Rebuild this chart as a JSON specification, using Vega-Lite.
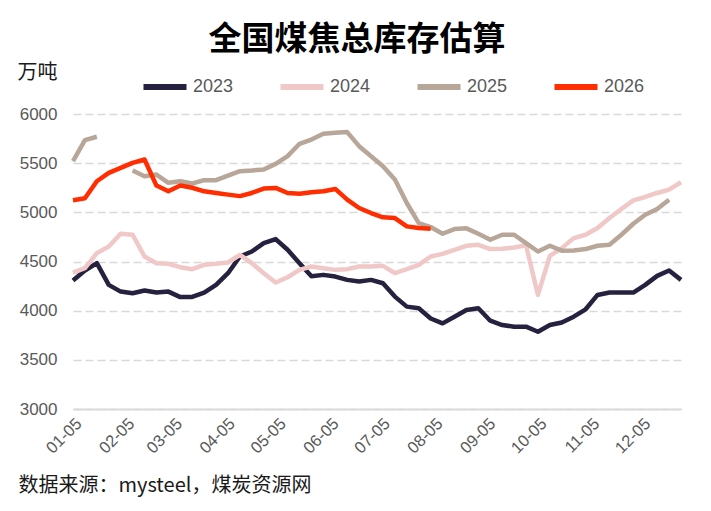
{
  "$schema": "https://vega.github.io/schema/vega-lite/v6.json",
  "width": 608,
  "height": 295,
  "autosize": {"type": "none"},
  "padding": {"left": 73, "top": 114, "right": 30, "bottom": 102},
  "background": "white",
  "title": {
    "text": "全国煤焦总库存估算",
    "font": "Noto Sans CJK SC",
    "fontSize": 33,
    "fontWeight": "bold",
    "color": "#000000",
    "anchor": "middle",
    "frame": "group",
    "dx": -20,
    "offset": 5
  },
  "data": {
    "values": [
      {"year": "2023", "date": "2001-01-05", "value": 4306}, {"year": "2023", "date": "2001-01-12", "value": 4408}, {"year": "2023", "date": "2001-01-19", "value": 4483}, {"year": "2023", "date": "2001-01-26", "value": 4262}, {"year": "2023", "date": "2001-02-02", "value": 4194}, {"year": "2023", "date": "2001-02-09", "value": 4177}, {"year": "2023", "date": "2001-02-16", "value": 4205}, {"year": "2023", "date": "2001-02-23", "value": 4184}, {"year": "2023", "date": "2001-03-02", "value": 4194}, {"year": "2023", "date": "2001-03-09", "value": 4138}, {"year": "2023", "date": "2001-03-16", "value": 4140}, {"year": "2023", "date": "2001-03-23", "value": 4184}, {"year": "2023", "date": "2001-03-30", "value": 4262}, {"year": "2023", "date": "2001-04-06", "value": 4381}, {"year": "2023", "date": "2001-04-13", "value": 4551}, {"year": "2023", "date": "2001-04-20", "value": 4602}, {"year": "2023", "date": "2001-04-27", "value": 4687}, {"year": "2023", "date": "2001-05-04", "value": 4728}, {"year": "2023", "date": "2001-05-11", "value": 4619}, {"year": "2023", "date": "2001-05-18", "value": 4483}, {"year": "2023", "date": "2001-05-25", "value": 4350}, {"year": "2023", "date": "2001-06-01", "value": 4364}, {"year": "2023", "date": "2001-06-08", "value": 4347}, {"year": "2023", "date": "2001-06-15", "value": 4313}, {"year": "2023", "date": "2001-06-22", "value": 4296}, {"year": "2023", "date": "2001-06-29", "value": 4313}, {"year": "2023", "date": "2001-07-06", "value": 4279}, {"year": "2023", "date": "2001-07-13", "value": 4143}, {"year": "2023", "date": "2001-07-20", "value": 4041}, {"year": "2023", "date": "2001-07-27", "value": 4024}, {"year": "2023", "date": "2001-08-03", "value": 3920}, {"year": "2023", "date": "2001-08-10", "value": 3871}, {"year": "2023", "date": "2001-08-17", "value": 3939}, {"year": "2023", "date": "2001-08-24", "value": 4007}, {"year": "2023", "date": "2001-08-31", "value": 4024}, {"year": "2023", "date": "2001-09-07", "value": 3898}, {"year": "2023", "date": "2001-09-14", "value": 3854}, {"year": "2023", "date": "2001-09-21", "value": 3837}, {"year": "2023", "date": "2001-09-28", "value": 3837}, {"year": "2023", "date": "2001-10-05", "value": 3786}, {"year": "2023", "date": "2001-10-12", "value": 3854}, {"year": "2023", "date": "2001-10-19", "value": 3880}, {"year": "2023", "date": "2001-10-26", "value": 3939}, {"year": "2023", "date": "2001-11-02", "value": 4014}, {"year": "2023", "date": "2001-11-09", "value": 4160}, {"year": "2023", "date": "2001-11-16", "value": 4184}, {"year": "2023", "date": "2001-11-23", "value": 4184}, {"year": "2023", "date": "2001-11-30", "value": 4184}, {"year": "2023", "date": "2001-12-07", "value": 4262}, {"year": "2023", "date": "2001-12-14", "value": 4354}, {"year": "2023", "date": "2001-12-21", "value": 4408}, {"year": "2023", "date": "2001-12-28", "value": 4313},
      {"year": "2024", "date": "2001-01-05", "value": 4388}, {"year": "2024", "date": "2001-01-12", "value": 4432}, {"year": "2024", "date": "2001-01-19", "value": 4585}, {"year": "2024", "date": "2001-01-26", "value": 4653}, {"year": "2024", "date": "2001-02-02", "value": 4782}, {"year": "2024", "date": "2001-02-09", "value": 4772}, {"year": "2024", "date": "2001-02-16", "value": 4551}, {"year": "2024", "date": "2001-02-23", "value": 4483}, {"year": "2024", "date": "2001-03-02", "value": 4476}, {"year": "2024", "date": "2001-03-09", "value": 4442}, {"year": "2024", "date": "2001-03-16", "value": 4422}, {"year": "2024", "date": "2001-03-23", "value": 4466}, {"year": "2024", "date": "2001-03-30", "value": 4476}, {"year": "2024", "date": "2001-04-06", "value": 4490}, {"year": "2024", "date": "2001-04-13", "value": 4568}, {"year": "2024", "date": "2001-04-20", "value": 4483}, {"year": "2024", "date": "2001-04-27", "value": 4381}, {"year": "2024", "date": "2001-05-04", "value": 4286}, {"year": "2024", "date": "2001-05-11", "value": 4340}, {"year": "2024", "date": "2001-05-18", "value": 4415}, {"year": "2024", "date": "2001-05-25", "value": 4449}, {"year": "2024", "date": "2001-06-01", "value": 4432}, {"year": "2024", "date": "2001-06-08", "value": 4415}, {"year": "2024", "date": "2001-06-15", "value": 4422}, {"year": "2024", "date": "2001-06-22", "value": 4449}, {"year": "2024", "date": "2001-06-29", "value": 4449}, {"year": "2024", "date": "2001-07-06", "value": 4456}, {"year": "2024", "date": "2001-07-13", "value": 4381}, {"year": "2024", "date": "2001-07-20", "value": 4422}, {"year": "2024", "date": "2001-07-27", "value": 4466}, {"year": "2024", "date": "2001-08-03", "value": 4551}, {"year": "2024", "date": "2001-08-10", "value": 4578}, {"year": "2024", "date": "2001-08-17", "value": 4619}, {"year": "2024", "date": "2001-08-24", "value": 4660}, {"year": "2024", "date": "2001-08-31", "value": 4670}, {"year": "2024", "date": "2001-09-07", "value": 4626}, {"year": "2024", "date": "2001-09-14", "value": 4629}, {"year": "2024", "date": "2001-09-21", "value": 4643}, {"year": "2024", "date": "2001-09-28", "value": 4665}, {"year": "2024", "date": "2001-10-05", "value": 4160}, {"year": "2024", "date": "2001-10-12", "value": 4558}, {"year": "2024", "date": "2001-10-19", "value": 4636}, {"year": "2024", "date": "2001-10-26", "value": 4738}, {"year": "2024", "date": "2001-11-02", "value": 4772}, {"year": "2024", "date": "2001-11-09", "value": 4840}, {"year": "2024", "date": "2001-11-16", "value": 4942}, {"year": "2024", "date": "2001-11-23", "value": 5034}, {"year": "2024", "date": "2001-11-30", "value": 5122}, {"year": "2024", "date": "2001-12-07", "value": 5156}, {"year": "2024", "date": "2001-12-14", "value": 5197}, {"year": "2024", "date": "2001-12-21", "value": 5231}, {"year": "2024", "date": "2001-12-28", "value": 5306},
      {"year": "2025", "date": "2001-01-05", "value": 5520}, {"year": "2025", "date": "2001-01-12", "value": 5735}, {"year": "2025", "date": "2001-01-19", "value": 5769}, {"year": "2025", "date": "2001-01-26", "value": null}, {"year": "2025", "date": "2001-02-02", "value": null}, {"year": "2025", "date": "2001-02-09", "value": 5425}, {"year": "2025", "date": "2001-02-16", "value": 5367}, {"year": "2025", "date": "2001-02-23", "value": 5384}, {"year": "2025", "date": "2001-03-02", "value": 5300}, {"year": "2025", "date": "2001-03-09", "value": 5316}, {"year": "2025", "date": "2001-03-16", "value": 5293}, {"year": "2025", "date": "2001-03-23", "value": 5327}, {"year": "2025", "date": "2001-03-30", "value": 5327}, {"year": "2025", "date": "2001-04-06", "value": 5374}, {"year": "2025", "date": "2001-04-13", "value": 5418}, {"year": "2025", "date": "2001-04-20", "value": 5425}, {"year": "2025", "date": "2001-04-27", "value": 5435}, {"year": "2025", "date": "2001-05-04", "value": 5493}, {"year": "2025", "date": "2001-05-11", "value": 5571}, {"year": "2025", "date": "2001-05-18", "value": 5697}, {"year": "2025", "date": "2001-05-25", "value": 5740}, {"year": "2025", "date": "2001-06-01", "value": 5800}, {"year": "2025", "date": "2001-06-08", "value": 5810}, {"year": "2025", "date": "2001-06-15", "value": 5816}, {"year": "2025", "date": "2001-06-22", "value": 5673}, {"year": "2025", "date": "2001-06-29", "value": 5571}, {"year": "2025", "date": "2001-07-06", "value": 5469}, {"year": "2025", "date": "2001-07-13", "value": 5333}, {"year": "2025", "date": "2001-07-20", "value": 5095}, {"year": "2025", "date": "2001-07-27", "value": 4891}, {"year": "2025", "date": "2001-08-03", "value": 4850}, {"year": "2025", "date": "2001-08-10", "value": 4782}, {"year": "2025", "date": "2001-08-17", "value": 4830}, {"year": "2025", "date": "2001-08-24", "value": 4837}, {"year": "2025", "date": "2001-08-31", "value": 4782}, {"year": "2025", "date": "2001-09-07", "value": 4721}, {"year": "2025", "date": "2001-09-14", "value": 4772}, {"year": "2025", "date": "2001-09-21", "value": 4772}, {"year": "2025", "date": "2001-09-28", "value": 4687}, {"year": "2025", "date": "2001-10-05", "value": 4602}, {"year": "2025", "date": "2001-10-12", "value": 4660}, {"year": "2025", "date": "2001-10-19", "value": 4610}, {"year": "2025", "date": "2001-10-26", "value": 4612}, {"year": "2025", "date": "2001-11-02", "value": 4626}, {"year": "2025", "date": "2001-11-09", "value": 4660}, {"year": "2025", "date": "2001-11-16", "value": 4670}, {"year": "2025", "date": "2001-11-23", "value": 4772}, {"year": "2025", "date": "2001-11-30", "value": 4884}, {"year": "2025", "date": "2001-12-07", "value": 4976}, {"year": "2025", "date": "2001-12-14", "value": 5034}, {"year": "2025", "date": "2001-12-21", "value": 5129},
      {"year": "2026", "date": "2001-01-05", "value": 5123}, {"year": "2026", "date": "2001-01-12", "value": 5143}, {"year": "2026", "date": "2001-01-19", "value": 5316}, {"year": "2026", "date": "2001-01-26", "value": 5401}, {"year": "2026", "date": "2001-02-02", "value": 5452}, {"year": "2026", "date": "2001-02-09", "value": 5503}, {"year": "2026", "date": "2001-02-16", "value": 5537}, {"year": "2026", "date": "2001-02-23", "value": 5272}, {"year": "2026", "date": "2001-03-02", "value": 5214}, {"year": "2026", "date": "2001-03-09", "value": 5272}, {"year": "2026", "date": "2001-03-16", "value": 5250}, {"year": "2026", "date": "2001-03-23", "value": 5214}, {"year": "2026", "date": "2001-03-30", "value": 5197}, {"year": "2026", "date": "2001-04-06", "value": 5180}, {"year": "2026", "date": "2001-04-13", "value": 5165}, {"year": "2026", "date": "2001-04-20", "value": 5197}, {"year": "2026", "date": "2001-04-27", "value": 5242}, {"year": "2026", "date": "2001-05-04", "value": 5248}, {"year": "2026", "date": "2001-05-11", "value": 5197}, {"year": "2026", "date": "2001-05-18", "value": 5190}, {"year": "2026", "date": "2001-05-25", "value": 5205}, {"year": "2026", "date": "2001-06-01", "value": 5214}, {"year": "2026", "date": "2001-06-08", "value": 5238}, {"year": "2026", "date": "2001-06-15", "value": 5129}, {"year": "2026", "date": "2001-06-22", "value": 5044}, {"year": "2026", "date": "2001-06-29", "value": 4993}, {"year": "2026", "date": "2001-07-06", "value": 4949}, {"year": "2026", "date": "2001-07-13", "value": 4942}, {"year": "2026", "date": "2001-07-20", "value": 4857}, {"year": "2026", "date": "2001-07-27", "value": 4840}, {"year": "2026", "date": "2001-08-03", "value": 4833}
    ]
  },
  "mark": {"type": "line", "strokeWidth": 4.5, "strokeJoin": "round", "invalid": "break-paths-show-domains", "clip": false},
  "encoding": {
    "x": {
      "field": "date",
      "type": "temporal",
      "scale": {"type": "utc", "domain": [{"year": 2001, "month": 1, "date": 5, "utc": true}, {"year": 2001, "month": 12, "date": 28, "utc": true}], "nice": false},
      "axis": {
        "title": "数据来源：mysteel，煤炭资源网",
        "titleFont": "Noto Sans CJK SC",
        "titleFontSize": 20,
        "titleFontWeight": "normal",
        "titleColor": "#1a1a1a",
        "titleAnchor": "start",
        "titleAlign": "left",
        "titleBaseline": "middle",
        "titleX": -55,
        "titleY": 76,
        "values": [
          {"year": 2001, "month": 1, "date": 5, "utc": true}, {"year": 2001, "month": 2, "date": 5, "utc": true}, {"year": 2001, "month": 3, "date": 5, "utc": true}, {"year": 2001, "month": 4, "date": 5, "utc": true}, {"year": 2001, "month": 5, "date": 5, "utc": true}, {"year": 2001, "month": 6, "date": 5, "utc": true}, {"year": 2001, "month": 7, "date": 5, "utc": true}, {"year": 2001, "month": 8, "date": 5, "utc": true}, {"year": 2001, "month": 9, "date": 5, "utc": true}, {"year": 2001, "month": 10, "date": 5, "utc": true}, {"year": 2001, "month": 11, "date": 5, "utc": true}, {"year": 2001, "month": 12, "date": 5, "utc": true}
        ],
        "format": "%m-%d",
        "labelAngle": -45,
        "labelFont": "Liberation Sans",
        "labelFontSize": 16.5,
        "labelColor": "#595959",
        "labelPadding": 6,
        "labelOverlap": false,
        "labelFlush": false,
        "ticks": false,
        "grid": false,
        "domain": true,
        "domainColor": "#d9d9d9",
        "domainWidth": 2
      }
    },
    "y": {
      "field": "value",
      "type": "quantitative",
      "scale": {"domain": [3000, 6000], "nice": false, "zero": false},
      "axis": {
        "title": "万吨",
        "titleFont": "Noto Sans CJK SC",
        "titleFontSize": 20,
        "titleFontWeight": "normal",
        "titleColor": "#1a1a1a",
        "titleAngle": 0,
        "titleAlign": "left",
        "titleBaseline": "middle",
        "titleX": -56,
        "titleY": -42,
        "values": [3000, 3500, 4000, 4500, 5000, 5500, 6000],
        "format": "d",
        "labelFont": "Liberation Sans",
        "labelFontSize": 17,
        "labelColor": "#595959",
        "labelPadding": 16,
        "ticks": false,
        "domain": false,
        "grid": true,
        "gridColor": "#d9d9d9",
        "gridWidth": 1.5,
        "gridDash": [8, 4]
      }
    },
    "color": {
      "field": "year",
      "type": "nominal",
      "scale": {"domain": ["2023", "2024", "2025", "2026"], "range": ["#25213f", "#f0c8c8", "#b8a699", "#ff2d00"]},
      "legend": {
        "title": null,
        "orient": "none",
        "legendX": 67,
        "legendY": -52,
        "direction": "horizontal",
        "columns": 4,
        "columnPadding": 34,
        "symbolType": "stroke",
        "symbolSize": 1850,
        "symbolStrokeWidth": 6,
        "labelFont": "Liberation Sans",
        "labelFontSize": 18,
        "labelColor": "#595959",
        "labelOffset": 3
      }
    }
  },
  "config": {
    "view": {"stroke": null},
    "font": "Liberation Sans"
  }
}
